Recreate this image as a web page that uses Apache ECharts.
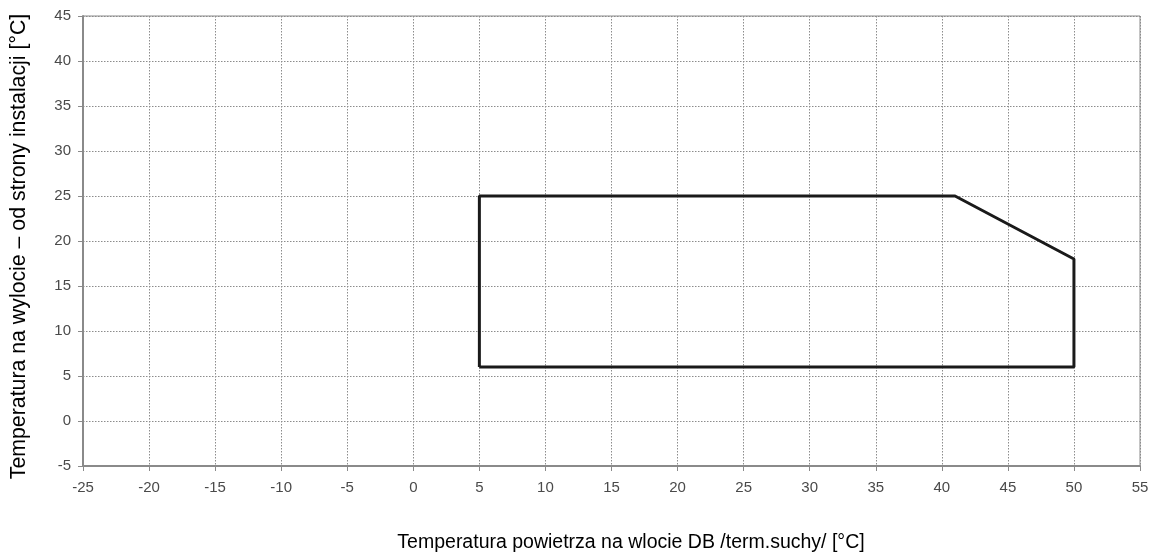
<!DOCTYPE html>
<html>
<head>
<meta charset="utf-8">
<script src="https://cdn.jsdelivr.net/npm/echarts@6/dist/echarts.min.js"></script>
<style>html,body{margin:0;padding:0;background:#fff}#c{width:1154px;height:556px}</style>
</head>
<body>
<div id="c"></div>
<script>
// Operating envelope boundary (x = air inlet DB temp, y = outlet water temp)
const boundaryX = [5, 5, 41, 50, 50, 5];
const boundaryY = [6, 25, 25, 18, 6, 6];
const xTicks = [-25,-20,-15,-10,-5,0,5,10,15,20,25,30,35,40,45,50,55];
const yTicks = [-5,0,5,10,15,20,25,30,35,40,45];
const xTitle = 'Temperatura powietrza na wlocie DB /term.suchy/ [°C]';
const yTitle = 'Temperatura na wylocie – od strony instalacji [°C]';

const chart = echarts.init(document.getElementById('c'), null, {renderer:'canvas'});
const font = 'Liberation Sans, Arial, sans-serif';
chart.setOption({
  animation:false,
  backgroundColor:'#fff',
  grid:{left:83,right:14,top:16,bottom:90,show:true,borderColor:'#8a8a8a',borderWidth:1,
        containLabel:false, outerBoundsMode:'none'},
  graphic:[
    {type:'text', x:631, y:543, silent:true,
     style:{text:xTitle, font:'19.5px ' + font, fill:'#000',
            align:'center', verticalAlign:'middle', textAlign:'center', textVerticalAlign:'middle'}},
    {type:'text', x:19.5, y:246.5, rotation:Math.PI/2, silent:true,
     style:{text:yTitle, font:'21.3px ' + font, fill:'#000',
            align:'center', verticalAlign:'middle', textAlign:'center', textVerticalAlign:'middle'}}
  ],
  xAxis:{
    type:'value', min:xTicks[0], max:xTicks[xTicks.length-1], interval:5,
    axisLine:{show:true,onZero:false,lineStyle:{color:'#8a8a8a',width:2}},
    axisTick:{show:true,length:5,lineStyle:{color:'#8a8a8a',width:1}},
    axisLabel:{fontFamily:font,fontSize:15,color:'#4a4a4a',margin:14},
    splitLine:{show:true,lineStyle:{color:'#8c8c8c',type:[1.5,1.5],width:1}}
  },
  yAxis:{
    type:'value', min:yTicks[0], max:yTicks[yTicks.length-1], interval:5,
    axisLine:{show:true,onZero:false,lineStyle:{color:'#8a8a8a',width:2}},
    axisTick:{show:true,length:5,lineStyle:{color:'#8a8a8a',width:1}},
    axisLabel:{fontFamily:font,fontSize:15,color:'#4a4a4a',margin:12},
    splitLine:{show:true,lineStyle:{color:'#8c8c8c',type:[1.5,1.5],width:1}}
  },
  series:[{
    type:'line',
    data:boundaryX.map((x,i)=>[x,boundaryY[i]]),
    showSymbol:false, symbol:'none',
    lineStyle:{color:'#1a1a1a',width:3},
    z:5
  }]
});
</script>
</body>
</html>
